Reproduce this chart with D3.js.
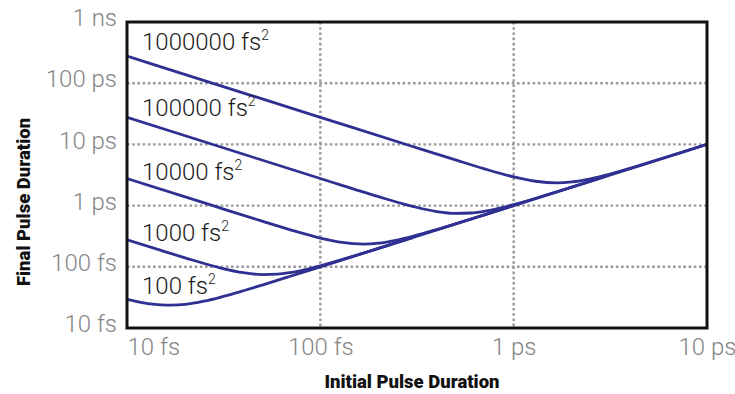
<!DOCTYPE html>
<html>
<head>
<meta charset="utf-8">
<script src="https://cdn.jsdelivr.net/npm/d3@7"></script>
<style>
  body { margin: 0; background: #fff; }
  svg { display: block; font-family: Roboto, sans-serif; }
</style>
</head>
<body>
<div id="chart"></div>
<script>
// group delay dispersion of each curve (fs^2)
var gdd = [100, 1000, 10000, 100000, 1000000]
var gddLabels = ['100 fs', '1000 fs', '10000 fs', '100000 fs', '1000000 fs']

// [initial duration fs, final duration fs]
var curve100 = [[10, 29.5], [12, 26], [15, 23.8], [17, 23.6], [20, 24.3], [25, 27.4], [30, 31.4],
  [40, 40.6], [50, 50.3], [70, 70.1], [100, 100], [1000, 1000], [10000, 10000]]
var curve1000 = [[10, 277], [15, 185], [20, 140], [30, 97], [40, 80], [50, 74.7], [60, 75.7],
  [70, 80.4], [85, 91], [100, 104], [150, 151], [200, 200.5], [300, 300]]
var curve10000 = [[10, 2770], [20, 1390], [30, 925], [50, 557], [70, 402], [100, 295], [130, 250],
  [166, 235], [200, 243], [250, 274], [300, 314], [400, 406], [500, 503], [700, 701], [1000, 1000]]
var curve100000 = [[10, 27700], [30, 9240], [100, 2770], [200, 1400], [300, 972], [400, 800],
  [500, 747], [600, 757], [700, 804], [850, 910], [1000, 1038], [1500, 1511], [2000, 2005], [3000, 3000]]
var curve1000000 = [[10, 277000], [100, 27700], [300, 9240], [500, 5570], [700, 4020], [1000, 2950],
  [1300, 2500], [1665, 2355], [2000, 2433], [2500, 2735], [3000, 3139], [4000, 4060], [5000, 5030],
  [7000, 7010], [10000, 10000]]
var curves = [curve100, curve1000, curve10000, curve100000, curve1000000]

var xTicks = [10, 100, 1000, 10000]
var xTickLabels = ['10 fs', '100 fs', '1 ps', '10 ps']
var yTicks = [10, 100, 1000, 10000, 100000, 1000000]
var yTickLabels = ['10 fs', '100 fs', '1 ps', '10 ps', '100 ps', '1 ns']

var cfg = {
  WIDTH: 735,
  HEIGHT: 394,
  margin: { top: 22, left: 127, bottom: 66, right: 28 }
}
cfg.effectiveWidth = cfg.WIDTH - cfg.margin.left - cfg.margin.right
cfg.effectiveHeight = cfg.HEIGHT - cfg.margin.top - cfg.margin.bottom

var svg = d3.select('#chart').append('svg')
  .attr('width', cfg.WIDTH)
  .attr('height', cfg.HEIGHT)

var xScale = d3.scaleLog().domain([10, 10000]).range([0, cfg.effectiveWidth])
var yScale = d3.scaleLog().domain([10, 1000000]).range([cfg.effectiveHeight, 0])

var chartG = svg.append('g')
  .attr('transform', 'translate(' + cfg.margin.left + ',' + cfg.margin.top + ')')

svg.append('defs').append('clipPath').attr('id', 'plot-clip')
  .append('rect')
  .attr('width', cfg.effectiveWidth)
  .attr('height', cfg.effectiveHeight)

// dotted grid, inner decades only
chartG.selectAll('line.vgrid')
  .data(xTicks.slice(1, -1))
  .enter().append('line')
  .attr('class', 'vgrid')
  .attr('x1', xScale).attr('x2', xScale)
  .attr('y1', 0).attr('y2', cfg.effectiveHeight)
  .attr('stroke', '#999').attr('stroke-width', 2.4).attr('stroke-dasharray', '2.6,2.6')

chartG.selectAll('line.hgrid')
  .data(yTicks.slice(1, -1))
  .enter().append('line')
  .attr('class', 'hgrid')
  .attr('y1', yScale).attr('y2', yScale)
  .attr('x1', 0).attr('x2', cfg.effectiveWidth)
  .attr('stroke', '#999').attr('stroke-width', 2.4).attr('stroke-dasharray', '2.6,2.6')

var line = d3.line()
  .x(function(d) { return xScale(d[0]) })
  .y(function(d) { return yScale(d[1]) })
  .curve(d3.curveMonotoneX)

chartG.append('g').attr('clip-path', 'url(#plot-clip)')
  .selectAll('path.curve')
  .data(curves)
  .enter().append('path')
  .attr('class', 'curve')
  .attr('d', line)
  .attr('fill', 'none')
  .attr('stroke', '#2e3192')
  .attr('stroke-width', 2.8)
  .attr('stroke-linejoin', 'round')

// curve labels sit just above each curve's left end
var labelNudge = [-5, 1, 1, -1, -6]
var labels = chartG.selectAll('text.gdd')
  .data(gdd)
  .enter().append('text')
  .attr('class', 'gdd')
  .attr('x', 15)
  .attr('y', function(d, i) { return yScale(curves[i][0][1]) + labelNudge[i] })
  .attr('font-family', '"Roboto Light", Roboto, sans-serif')
  .attr('font-size', 24)
  .attr('font-weight', 300)
  .attr('fill', '#1a1a1a')
labels.append('tspan').text(function(d, i) { return gddLabels[i] })
labels.append('tspan')
  .attr('font-size', 14)
  .attr('dy', -10)
  .text('2')

// frame
chartG.append('rect')
  .attr('width', cfg.effectiveWidth)
  .attr('height', cfg.effectiveHeight)
  .attr('fill', 'none')
  .attr('stroke', '#111')
  .attr('stroke-width', 3)

// axes
var yAxis = d3.axisLeft(yScale)
  .tickValues(yTicks)
  .tickSize(0)
  .tickPadding(10)
  .tickFormat(function(d, i) { return yTickLabels[i] })

var yAxisG = chartG.append('g').call(yAxis)
yAxisG.select('.domain').remove()
yAxisG.selectAll('text')
  .attr('y', -4)
  .attr('font-family', '"Roboto Light", Roboto, sans-serif')
  .attr('font-size', 24)
  .attr('font-weight', 300)
  .attr('fill', '#858585')

var xAxis = d3.axisBottom(xScale)
  .tickValues(xTicks)
  .tickSize(0)
  .tickPadding(10)
  .tickFormat(function(d, i) { return xTickLabels[i] })

var xAxisG = chartG.append('g')
  .attr('transform', 'translate(0,' + cfg.effectiveHeight + ')')
  .call(xAxis)
xAxisG.select('.domain').remove()
xAxisG.selectAll('text')
  .attr('font-family', '"Roboto Light", Roboto, sans-serif')
  .attr('font-size', 24)
  .attr('font-weight', 300)
  .attr('fill', '#858585')
  .attr('text-anchor', function(d, i) { return i === 0 ? 'start' : 'middle' })

// axis titles
svg.append('text')
  .attr('transform', 'translate(24,' + (cfg.margin.top + cfg.effectiveHeight / 2 + 27) + ') rotate(-90)')
  .attr('text-anchor', 'middle')
  .attr('dominant-baseline', 'central')
  .attr('font-size', 18.5)
  .attr('font-weight', 900)
  .attr('fill', '#111')
  .text('Final Pulse Duration')

svg.append('text')
  .attr('x', 412)
  .attr('y', cfg.HEIGHT - 12)
  .attr('text-anchor', 'middle')
  .attr('dominant-baseline', 'central')
  .attr('font-size', 18.5)
  .attr('font-weight', 900)
  .attr('fill', '#111')
  .text('Initial Pulse Duration')
</script>
</body>
</html>
